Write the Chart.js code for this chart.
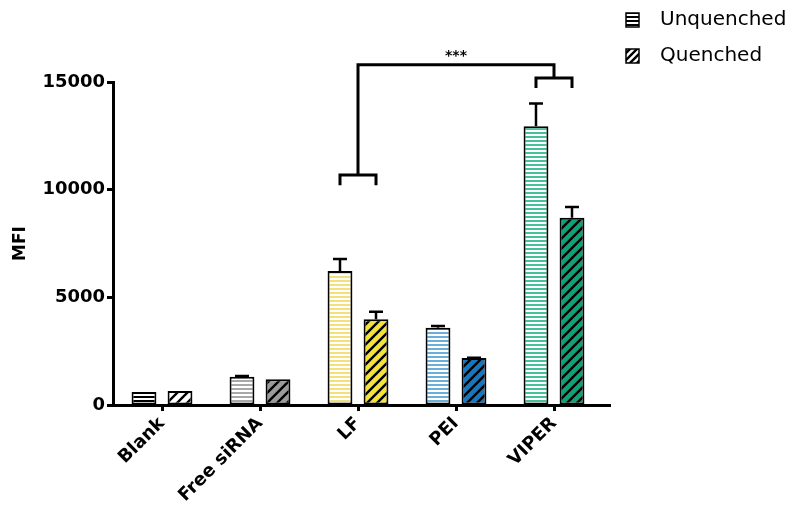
<!DOCTYPE html>
<html>
<head>
<meta charset="utf-8">
<script src="https://cdn.jsdelivr.net/npm/chart.js@4.4.1/dist/chart.umd.min.js"></script>
<style>
  html, body { margin: 0; padding: 0; background: #fff; }
  #wrap { width: 800px; height: 513px; }
</style>
</head>
<body>
<div id="wrap"><canvas id="chart" width="800" height="513"></canvas></div>
<script>
// data
const categories = ['Blank', 'Free siRNA', 'LF', 'PEI', 'VIPER'];
const unquenched = [600, 1310, 6220, 3590, 12950];
const unquenchedErr = [0, 40, 560, 80, 1050];
const quenched = [650, 1200, 3980, 2180, 8700];
const quenchedErr = [0, 0, 350, 20, 500];
const yTicks = [0, 5000, 10000, 15000];

// colours per category: stripe colour for unquenched, fill for quenched
const stripeColors = ['#000000', '#a8a8a8', '#f2e07a', '#6aaedc', '#46c09a'];
const fillColors = ['#ffffff', '#9b9b9b', '#f3e23c', '#1677bd', '#12a077'];

// significance bracket (LF vs VIPER)
const sigText = '***';
const sigFrom = 2, sigTo = 4;
const sigTop = 15800, sigFromLevel = 10680, sigToLevel = 15190, sigDrop = 470;

function stripes(color) {
  const c = document.createElement('canvas');
  c.width = 4; c.height = 4;
  const g = c.getContext('2d');
  g.fillStyle = '#fff'; g.fillRect(0, 0, 4, 4);
  g.fillStyle = color; g.fillRect(0, 0, 4, 2);
  return g.createPattern(c, 'repeat');
}

function hatch(bg, size) {
  const c = document.createElement('canvas');
  c.width = size; c.height = size;
  const g = c.getContext('2d');
  g.fillStyle = bg; g.fillRect(0, 0, size, size);
  g.strokeStyle = '#000'; g.lineWidth = 2.4;
  g.beginPath();
  g.moveTo(0, size); g.lineTo(size, 0);
  g.moveTo(-size / 2, size / 2); g.lineTo(size / 2, -size / 2);
  g.moveTo(size / 2, size * 1.5); g.lineTo(size * 1.5, size / 2);
  g.stroke();
  return g.createPattern(c, 'repeat');
}

const errErr = [unquenchedErr, quenchedErr];

const extras = {
  id: 'extras',
  afterDatasetsDraw(chart) {
    const ctx = chart.ctx;
    const y = chart.scales.y;
    const area = chart.chartArea;
    ctx.save();
    ctx.strokeStyle = '#000';
    ctx.lineWidth = 2.5;
    // error bars (upper only)
    [0, 1].forEach(d => {
      const meta = chart.getDatasetMeta(d);
      const vals = chart.data.datasets[d].data;
      meta.data.forEach((bar, i) => {
        const e = errErr[d][i];
        if (!e) return;
        const top = y.getPixelForValue(vals[i] + e);
        ctx.beginPath();
        ctx.moveTo(bar.x, bar.y);
        ctx.lineTo(bar.x, top);
        ctx.moveTo(bar.x - 7, top);
        ctx.lineTo(bar.x + 7, top);
        ctx.stroke();
      });
    });
    // x axis line runs a little past the last category
    ctx.lineWidth = 3;
    ctx.beginPath();
    ctx.moveTo(area.right - 2, area.bottom + 0.5);
    ctx.lineTo(area.right + 8, area.bottom + 0.5);
    ctx.stroke();

    // significance bracket
    const m0 = chart.getDatasetMeta(0).data, m1 = chart.getDatasetMeta(1).data;
    const x = chart.scales.x;
    const cx1 = x.getPixelForValue(sigFrom), cx2 = x.getPixelForValue(sigTo);
    const yTop = y.getPixelForValue(sigTop);
    const yL = y.getPixelForValue(sigFromLevel), yR = y.getPixelForValue(sigToLevel);
    const drop = y.getPixelForValue(0) - y.getPixelForValue(sigDrop);
    ctx.lineWidth = 3;
    ctx.beginPath();
    ctx.moveTo(cx1, yL); ctx.lineTo(cx1, yTop); ctx.lineTo(cx2, yTop); ctx.lineTo(cx2, yR);
    ctx.moveTo(m0[sigFrom].x, yL + drop); ctx.lineTo(m0[sigFrom].x, yL);
    ctx.lineTo(m1[sigFrom].x, yL); ctx.lineTo(m1[sigFrom].x, yL + drop);
    ctx.moveTo(m0[sigTo].x, yR + drop); ctx.lineTo(m0[sigTo].x, yR);
    ctx.lineTo(m1[sigTo].x, yR); ctx.lineTo(m1[sigTo].x, yR + drop);
    ctx.stroke();
    ctx.fillStyle = '#000';
    ctx.font = 'bold 14px "DejaVu Sans"';
    ctx.textAlign = 'center';
    ctx.textBaseline = 'middle';
    ctx.fillText(sigText, (cx1 + cx2) / 2, yTop - 8);

    // legend
    const names = [chart.data.datasets[0].label, chart.data.datasets[1].label];
    const fills = [stripes('#000'), hatch('#fff', 7)];
    names.forEach((n, k) => {
      const by = 13 + k * 36;
      ctx.fillStyle = fills[k];
      ctx.fillRect(626, by, 13, 14);
      ctx.lineWidth = 1.5;
      ctx.strokeStyle = '#000';
      ctx.strokeRect(626, by, 13, 14);
      ctx.fillStyle = '#000';
      ctx.font = '20px "DejaVu Sans"';
      ctx.textAlign = 'left';
      ctx.fillText(n, 660, by + 7);
    });
    ctx.restore();
  }
};

const ctx = document.getElementById('chart').getContext('2d');
new Chart(ctx, {
  type: 'bar',
  data: {
    labels: categories,
    datasets: [
      {
        label: 'Unquenched',
        data: unquenched,
        backgroundColor: stripeColors.map(stripes),
        borderColor: '#000',
        borderWidth: 2,
        borderSkipped: false
      },
      {
        label: 'Quenched',
        data: quenched,
        backgroundColor: fillColors.map(c => hatch(c, 10)),
        borderColor: '#000',
        borderWidth: 2,
        borderSkipped: false
      }
    ]
  },
  options: {
    responsive: false,
    animation: false,
    categoryPercentage: 0.735,
    barPercentage: 0.69,
    layout: { padding: { left: 0, right: 197, top: 82, bottom: 0 } },
    plugins: {
      legend: { display: false },
      tooltip: { enabled: false }
    },
    scales: {
      x: {
        afterFit: s => { s.height = 108; },
        grid: { display: true, drawOnChartArea: false, offset: false, tickLength: 6, tickWidth: 3, tickColor: '#000' },
        border: { display: true, color: '#000', width: 3 },
        ticks: {
          color: '#000',
          font: { family: 'DejaVu Sans', size: 18, weight: 'bold' },
          minRotation: 45, maxRotation: 45, padding: 2
        }
      },
      y: {
        min: 0, max: 15000,
        afterFit: s => { s.width = 113; },
        afterBuildTicks: s => { s.ticks = yTicks.map(v => ({ value: v })); },
        grid: { display: true, drawOnChartArea: false, tickLength: 6, tickWidth: 3, tickColor: '#000' },
        border: { display: true, color: '#000', width: 3 },
        ticks: {
          color: '#000',
          font: { family: 'DejaVu Sans', size: 18, weight: 'bold' },
          padding: 2,
          callback: v => String(v)
        },
        title: {
          display: true, text: 'MFI', color: '#000',
          font: { family: 'DejaVu Sans', size: 17, weight: 'bold' },
          padding: { top: 10 }
        }
      }
    }
  },
  plugins: [extras]
});
</script>
</body>
</html>
